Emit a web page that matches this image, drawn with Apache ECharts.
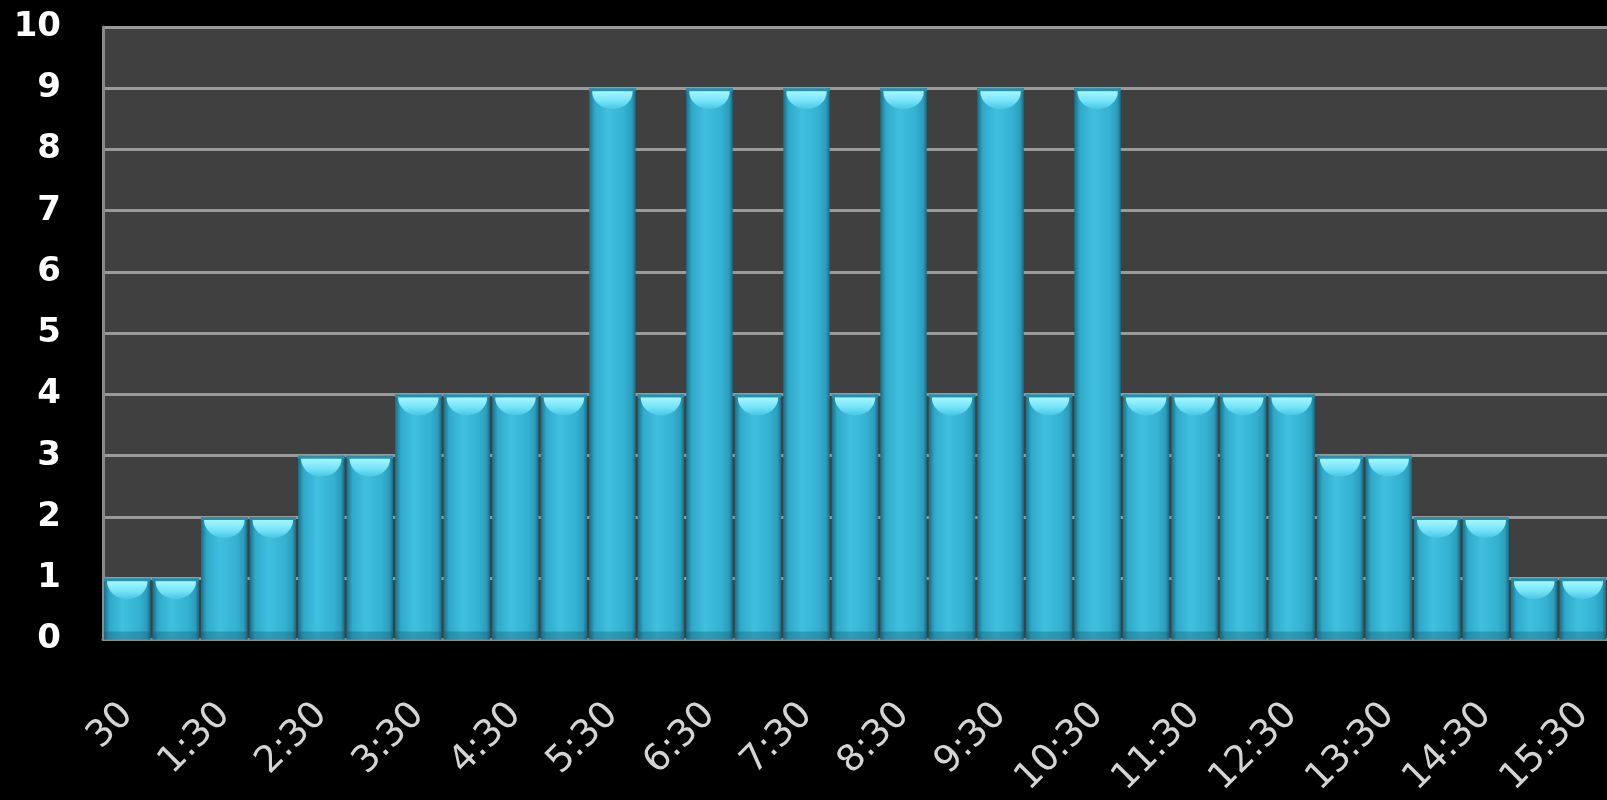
<!DOCTYPE html>
<html lang="en">
<head>
	<meta charset="UTF-8">
	<title>Chart</title>
	<style>
		html, body { margin: 0; padding: 0; background: #000; }
	</style>
</head>
<body>
	<div id="main" style="width: 1607px;height: 800px"></div>
	<script src="https://cdn.jsdelivr.net/npm/echarts@6/dist/echarts.min.js"></script>
	<script>
		// half-hour slots, only every other one gets a label
		var times = ['30', '1:00', '1:30', '2:00', '2:30', '3:00', '3:30', '4:00', '4:30', '5:00',
			'5:30', '6:00', '6:30', '7:00', '7:30', '8:00', '8:30', '9:00', '9:30', '10:00',
			'10:30', '11:00', '11:30', '12:00', '12:30', '13:00', '13:30', '14:00', '14:30', '15:00', '15:30']
		var counts = [1, 1, 2, 2, 3, 3, 4, 4, 4, 4,
			9, 4, 9, 4, 9, 4, 9, 4, 9, 4,
			9, 4, 4, 4, 4, 3, 3, 2, 2, 1, 1]
		var yTicks = [0, 10, 1]  // min, max, step

		var bodyFill = new echarts.graphic.LinearGradient(0, 0, 1, 0, [
			{offset: 0, color: '#1b6f87'},
			{offset: 0.12, color: '#2fa9c9'},
			{offset: 0.4, color: '#40bfdf'},
			{offset: 0.75, color: '#35b2d2'},
			{offset: 0.92, color: '#2b9dbc'},
			{offset: 1, color: '#1a6a82'}
		])
		var capFill = new echarts.graphic.LinearGradient(0, 0, 0, 1, [
			{offset: 0, color: '#a4f8ff'},
			{offset: 0.55, color: '#74e3f8'},
			{offset: 1, color: '#48c6e4'}
		])

		function drawBar(params, api) {
			var top = api.coord([api.value(0), api.value(1)])
			var base = api.coord([api.value(0), 0])
			var w = api.size([1, 0])[0]
			var x0 = top[0] - w / 2 + 1
			var x1 = top[0] + w / 2 - 1
			var y0 = top[1]
			var h = base[1] - y0
			var rx = (x1 - x0) / 2 - 3
			return {
				type: 'group',
				children: [
					{type: 'rect', shape: {x: x0, y: y0, width: x1 - x0, height: h}, style: {fill: bodyFill}},
					{type: 'rect', shape: {x: x0, y: base[1] - 8, width: x1 - x0, height: 8}, style: {fill: 'rgba(20,90,110,0.35)'}},
					{type: 'rect', shape: {x: x0, y: y0, width: x1 - x0, height: 3}, style: {fill: '#2a8fab'}},
					{type: 'path', shape: {
						pathData: 'M' + (x0 + 3) + ',' + (y0 + 3) + ' L' + (x1 - 3) + ',' + (y0 + 3) +
							' A' + rx + ' 18 0 0 1 ' + (x0 + 3) + ',' + (y0 + 3) + ' Z'
					}, style: {fill: capFill}}
				]
			}
		}

		var myChart = echarts.init(document.getElementById('main'));
		var option = {
			backgroundColor: '#000',
			animation: false,
			grid: {left: 103, right: 0, top: 27, bottom: 160, backgroundColor: '#404040', show: true, borderWidth: 0},
			xAxis: {
				type: 'category',
				data: times,
				axisLine: {show: true, lineStyle: {color: '#8a8a8a', width: 3}},
				axisTick: {show: false},
				axisLabel: {
					interval: 1,
					rotate: 45,
					margin: 70,
					color: '#d4d4d4',
					fontFamily: 'DejaVu Sans',
					fontSize: 37
				}
			},
			yAxis: {
				type: 'value',
				min: yTicks[0],
				max: yTicks[1],
				interval: yTicks[2],
				axisLine: {show: true, lineStyle: {color: '#8a8a8a', width: 3}},
				axisTick: {show: false},
				splitLine: {lineStyle: {color: '#9a9a9a', width: 3}},
				axisLabel: {
					margin: 42,
					color: '#ffffff',
					fontFamily: 'DejaVu Sans',
					fontWeight: 'bold',
					fontSize: 34
				}
			},
			series: [{
				type: 'custom',
				renderItem: drawBar,
				encode: {x: 0, y: 1},
				data: times.map(function (t, i) { return [i, counts[i]] })
			}]
		};
		myChart.setOption(option);
	</script>
</body>
</html>
